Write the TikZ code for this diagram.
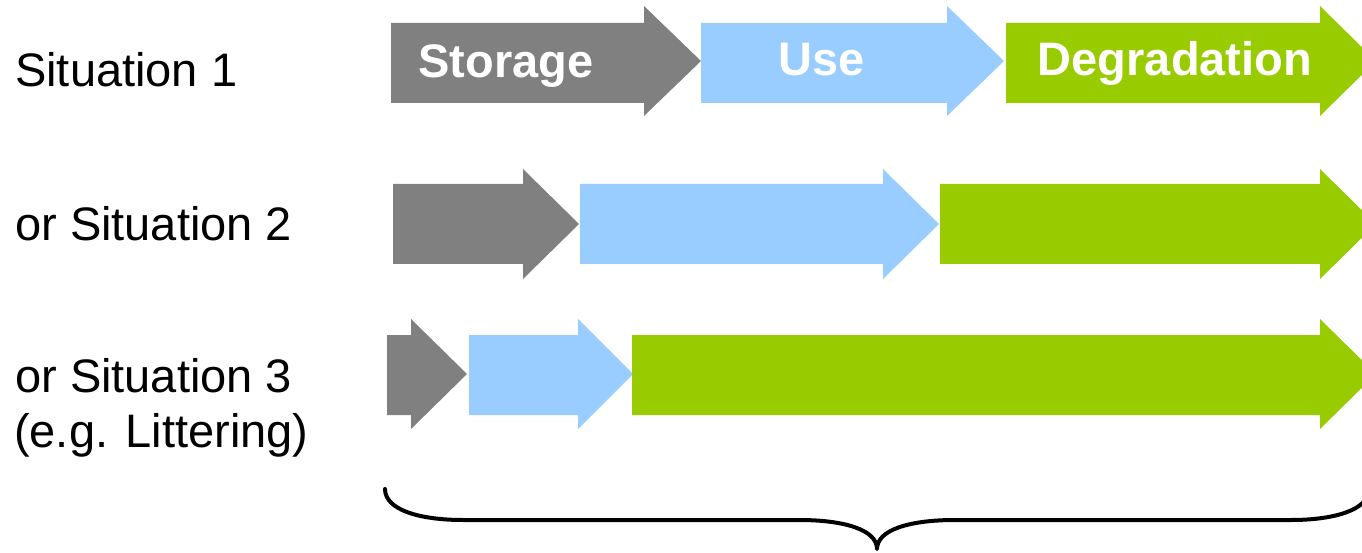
\documentclass[tikz,border=0pt]{standalone}
\usepackage{fontspec}
\setmainfont{Liberation Sans}
\definecolor{storegrey}{HTML}{808080}
\definecolor{useblue}{HTML}{99CCFF}
\definecolor{degreen}{HTML}{99CC00}
\newcommand{\phasearrow}[8]{%
  \fill[#1] (#2,#5) -- (#3,#5) -- (#3,#7) -- (#4,{(#7+#8)/2}) -- (#3,#8) -- (#3,#6) -- (#2,#6) -- cycle;}
\tikzset{
  sitlabel/.style={anchor=base west, inner sep=0pt, font=\fontsize{47}{55}\selectfont, text=black},
  phaselabel/.style={anchor=base, inner sep=0pt, font=\fontsize{47}{55}\selectfont\bfseries, text=white},
  bracepath/.style={line width=4pt, draw=black, line cap=round, line join=round}
}
\begin{document}
\begin{tikzpicture}[x=1pt,y=-1pt]
\useasboundingbox (0,0) rectangle (1362,553);
\clip (0,0) rectangle (1362,553);
% Row 1
\phasearrow{storegrey}{391}{644}{701}{23}{103}{6}{116}
\phasearrow{useblue}{701}{947}{1004}{23}{103}{6}{116}
\phasearrow{degreen}{1006}{1320}{1376}{23}{103}{6}{116}
% Row 2
\phasearrow{storegrey}{393}{523}{579}{184}{264}{169}{279}
\phasearrow{useblue}{580}{883}{939}{184}{264}{169}{279}
\phasearrow{degreen}{940}{1320}{1376}{184}{264}{169}{279}
% Row 3
\phasearrow{storegrey}{387}{411}{467}{335}{415}{319}{429}
\phasearrow{useblue}{469}{578}{633}{335}{415}{319}{429}
\phasearrow{degreen}{632}{1320}{1376}{335}{415}{319}{429}
% Phase labels
\node[phaselabel] (lstorage) at (506,78) {Storage};
\node[phaselabel] (luse) at (822,76) {Use};
\node[phaselabel] (ldeg) at (1175,76) {Degradation};
% Situation labels
\node[sitlabel] (s1) at (15,87) {Situation 1};
\node[sitlabel] (s2) at (15,241) {or Situation 2};
\node[sitlabel] (s3) at (15,392) {or Situation 3};
\node[sitlabel] (s3b) at (14,447) {(e.g. Littering)};
% Brace
\coordinate (bl) at (385,489);
\coordinate (btip) at (877,549);
\coordinate (br) at (1369,489);
\draw[bracepath] (bl) .. controls (385,510) and (420,520) .. (463,520) -- (799,520)
  .. controls (845,520) and (877,530) .. (btip)
  .. controls (877,530) and (909,520) .. (955,520) -- (1291,520)
  .. controls (1334,520) and (1369,510) .. (br);
\end{tikzpicture}
\end{document}
